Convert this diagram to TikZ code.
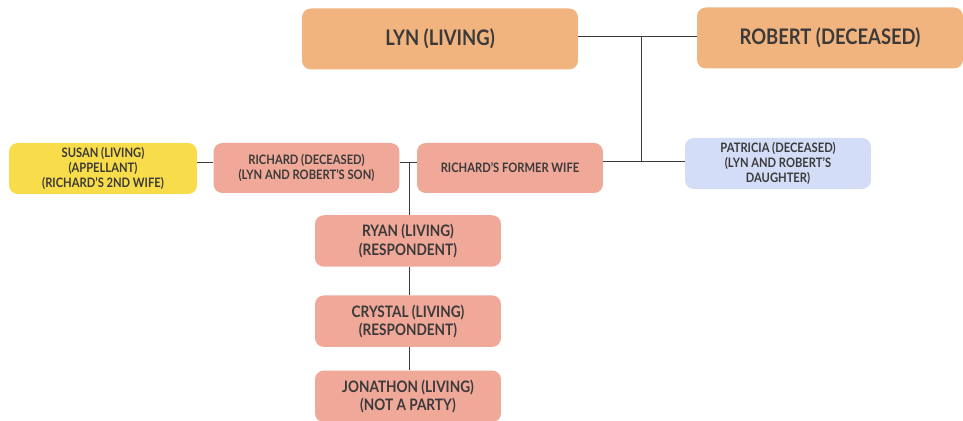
\documentclass[tikz,border=0pt]{standalone}
\usepackage{fontspec}
\setmainfont[FakeStretch=0.86]{Lato}
\usepackage{tikz}
\usetikzlibrary{positioning}
\definecolor{parentorange}{HTML}{F2B47E}
\definecolor{childsalmon}{HTML}{F0A899}
\definecolor{wifeyellow}{HTML}{F9DC4A}
\definecolor{daughterblue}{HTML}{D4DDF7}
\definecolor{inkgray}{HTML}{3A3A3A}

\begin{document}
\begin{tikzpicture}[
        x=0.02cm, y=-0.02cm,
        person/.style={rounded corners=5pt, align=center, text=inkgray, font=\bfseries\fontsize{7.4}{8.4}\selectfont, inner sep=0pt},
        parent/.style={person, fill=parentorange, minimum height=1.22cm, font=\bfseries\fontsize{12.2}{14}\selectfont},
        child/.style={person, fill=childsalmon, minimum width=3.72cm, minimum height=1.0cm},
        grandchild/.style={child, minimum height=1.03cm, font=\bfseries\fontsize{9}{10.4}\selectfont},
        link/.style={draw=inkgray, line width=0.5pt}
    ]
    \useasboundingbox (0,0) rectangle (963,421);

    % parents
    \node[parent, minimum width=5.52cm] (lyn) at (440,39) {LYN (LIVING)};
    \node[parent, minimum width=5.32cm] (robert) at (830,38) {ROBERT (DECEASED)};

    % children and spouses
    \node[person, fill=wifeyellow, minimum width=3.76cm, minimum height=1.02cm] (susan) at (103,168.5) {SUSAN (LIVING)\\(APPELLANT)\\(RICHARD'S 2ND WIFE)};
    \node[child] (richard) at (306.5,168) {RICHARD (DECEASED)\\(LYN AND ROBERT'S SON)};
    \node[child] (wife) at (510,168) {RICHARD'S FORMER WIFE};
    \node[person, fill=daughterblue, minimum width=3.72cm, minimum height=1.02cm] (patricia) at (778,163.5) {PATRICIA (DECEASED)\\(LYN AND ROBERT'S\\DAUGHTER)};

    % grandchildren
    \node[grandchild] (ryan) at (408,241) {RYAN (LIVING)\\(RESPONDENT)};
    \node[grandchild, below=0.56cm of ryan] (crystal) {CRYSTAL (LIVING)\\(RESPONDENT)};
    \node[grandchild, below=0.46cm of crystal] (jonathon) {JONATHON (LIVING)\\(NOT A PARTY)};

    % connectors
    \coordinate (marriage) at (641,36);
    \coordinate (kids) at (409,162);
    \draw[link] (lyn.east |- marriage) -- (robert.west |- marriage);
    \draw[link] (marriage) -- (marriage |- 0,161);
    \draw[link] (wife.east |- 0,161) -- (patricia.west |- 0,161);
    \draw[link] (susan.east |- kids) -- (richard.west |- kids);
    \draw[link] (richard.east |- kids) -- (wife.west |- kids);
    \draw[link] (kids) -- (kids |- ryan.north);
    \draw[link] (kids |- ryan.south) -- (kids |- crystal.north);
    \draw[link] (kids |- crystal.south) -- (kids |- jonathon.north);
\end{tikzpicture}
\end{document}
